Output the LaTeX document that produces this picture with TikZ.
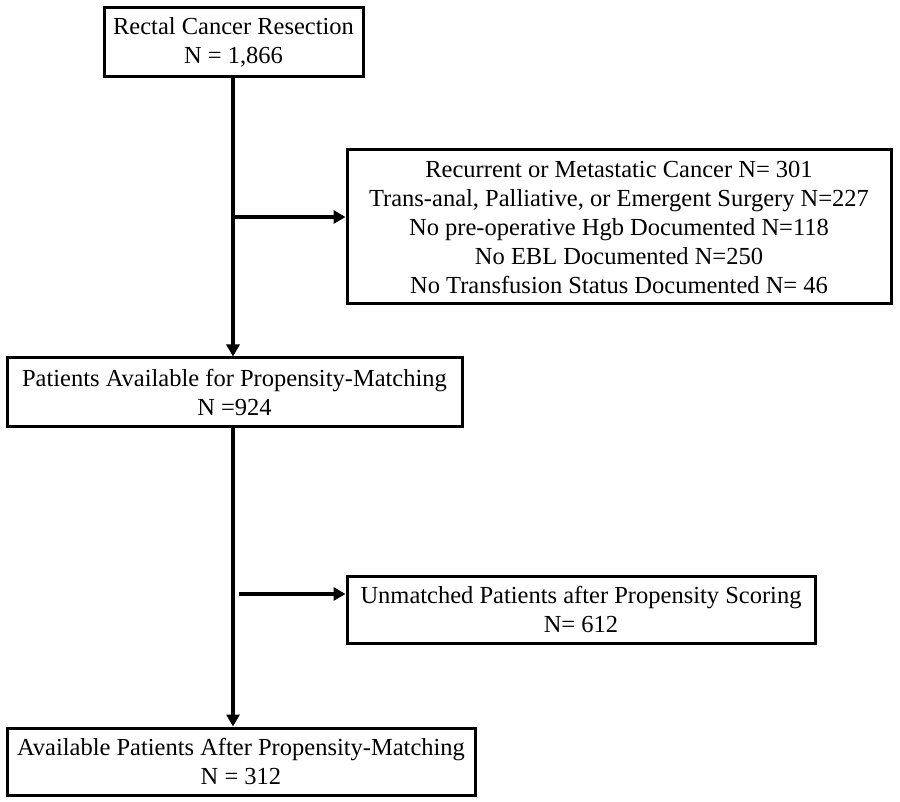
\documentclass[tikz,border=0pt]{standalone}
\usepackage{fontspec}
\setmainfont{Liberation Serif}
\usetikzlibrary{arrows.meta}

\begin{document}
\begin{tikzpicture}[x=1pt, y=-1pt]

    \tikzstyle{block} = [rectangle, draw, line width=3pt, align=center, inner sep=0pt, font=\fontsize{24.5}{29}\selectfont]
    \tikzstyle{arrow} = [line width=4pt, -{Triangle[length=12pt, width=13pt]}]

    \useasboundingbox (0,0) rectangle (900,802);

    \node[block, minimum width=259pt, minimum height=69pt] (resection) at (233.5,42.5) {Rectal Cancer Resection\\N = 1,866};
    \node[block, minimum width=544pt, minimum height=154pt] (excluded) at (619,227) {Recurrent or Metastatic Cancer N= 301\\Trans-anal, Palliative, or Emergent Surgery N=227\\No pre-operative Hgb Documented N=118\\No EBL Documented N=250\\No Transfusion Status Documented N= 46};
    \node[block, minimum width=455pt, minimum height=68pt] (available) at (234.5,392) {Patients Available for Propensity-Matching\\N =924};
    \node[block, minimum width=468pt, minimum height=67pt] (unmatched) at (581,609.5) {Unmatched Patients after Propensity Scoring\\N= 612};
    \node[block, minimum width=468pt, minimum height=67pt] (matched) at (241,761.5) {Available Patients After Propensity-Matching\\N = 312};

    \coordinate (split1) at (233,217);
    \coordinate (split2) at (239,594);

    \draw[arrow] (resection.south -| split1) -- (split1 |- available.north);
    \draw[arrow] (split1) -- (split1 -| excluded.west);
    \draw[arrow] (available.south -| split1) -- (split1 |- matched.north);
    \draw[arrow] (split2) -- (split2 -| unmatched.west);

\end{tikzpicture}
\end{document}
